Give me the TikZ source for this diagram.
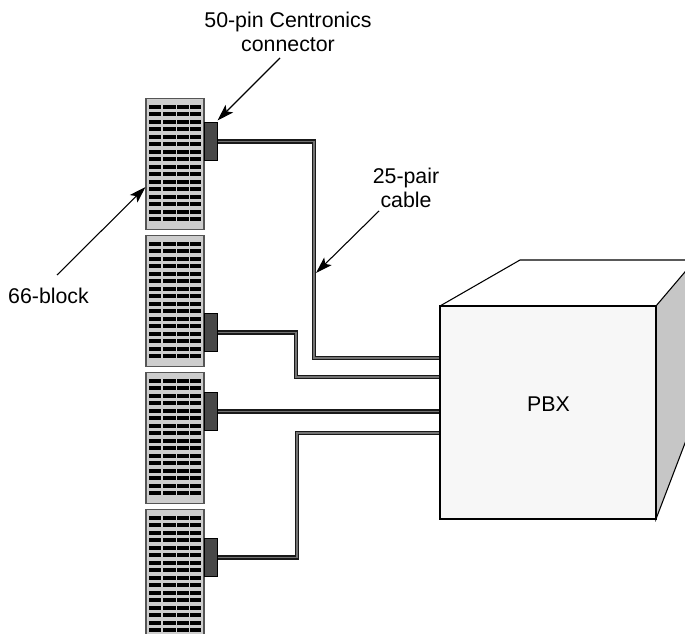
\documentclass[tikz,border=0pt]{standalone}
\usepackage{fontspec}
\setmainfont{Liberation Sans}
\usetikzlibrary{positioning,arrows.meta}
\definecolor{blockgray}{HTML}{CDCDCD}
\definecolor{edgegray}{HTML}{555555}
\definecolor{plugdark}{HTML}{484848}
\definecolor{frontgray}{HTML}{F7F7F7}
\definecolor{sidegray}{HTML}{C6C6C6}
\begin{document}
\begin{tikzpicture}[x=0.75pt, y=-0.75pt, font=\fontsize{16}{18}\selectfont, >={Stealth[length=4.4mm, width=2.8mm, inset=1mm]},
  blockbox/.style={draw=edgegray, line width=1pt, fill=blockgray, minimum width=43.5pt, minimum height=98pt, inner sep=0pt},
  plug/.style={draw=black, line width=0.7pt, fill=plugdark, minimum width=9.8pt, minimum height=29pt, inner sep=0pt},
  cable/.style={draw=black!90, line width=1pt, double=black!55, double distance=1.1pt, line join=miter},
  lab/.style={align=center, inner sep=0pt},
  point/.style={->, line width=0.8pt}]
\useasboundingbox (0,0) rectangle (685,634);
\clip (0,0) rectangle (685,634);
% punch blocks with their rows of pins
\foreach \b/\y in {1/164, 2/301, 3/438, 4/575} {
  \node[blockbox] (blk\b) at (175,\y) {};
  \foreach \p in {0,...,7} {
    \foreach \xa/\xb in {149/161, 163/175.5, 176.5/188.5, 189.5/201} {
      \fill[black] (\xa,\y-57+\p*15-1.9) rectangle (\xb,\y-57+\p*15+1.9);
      \fill[black] (\xa,\y-49.8+\p*15-1.9) rectangle (\xb,\y-49.8+\p*15+1.9);
    }
  }
}
\node[plug] (con1) at (210.5,141.5) {};
\node[plug] (con2) at (210.5,332.5) {};
\node[plug] (con3) at (210.5,411.5) {};
\node[plug] (con4) at (210.5,557.5) {};
% the box, side and top first
\draw[line width=0.8pt, fill=sidegray] (656,306) -- (690,266) -- (690,430) -- (656,519) -- cycle;
\draw[line width=0.8pt] (440,306) -- (520,260) -- (690,260);
\node[draw=black, line width=0.8pt, fill=frontgray, minimum width=162pt, minimum height=159.75pt, inner sep=0pt] (pbx) at (548,412.5) {};
\node[inner sep=0pt] (pbxlab) at (548.5,404) {PBX};
% cables
\coordinate (v1) at (314,358);
\coordinate (v2) at (296,377);
\coordinate (v4) at (297,433);
\draw[cable] (con1.east) -| (v1) -- (v1 -| pbx.west);
\draw[cable] (con2.east) -| (v2) -- (v2 -| pbx.west);
\draw[cable] (con3.east) -- (con3.east -| pbx.west);
\draw[cable] (con4.east) -| (v4) -- (v4 -| pbx.west);
% labels and pointers
\node[lab] (conlab) at (288,31.5) {50-pin Centronics\\connector};
\node[lab] (cablab) at (406,187.5) {25-pair\\cable};
\node[lab] (blklab) at (48.5,295.5) {66-block};
\coordinate (confrom) at (280,58);
\coordinate (contip) at (217.5,120.5);
\coordinate (cabfrom) at (379,211);
\coordinate (cabtip) at (316,273);
\coordinate (blkfrom) at (57,275);
\coordinate (blktip) at (145.5,187);
\draw[point] (confrom) -- (contip);
\draw[point] (cabfrom) -- (cabtip);
\draw[point] (blkfrom) -- (blktip);
\end{tikzpicture}
\end{document}
